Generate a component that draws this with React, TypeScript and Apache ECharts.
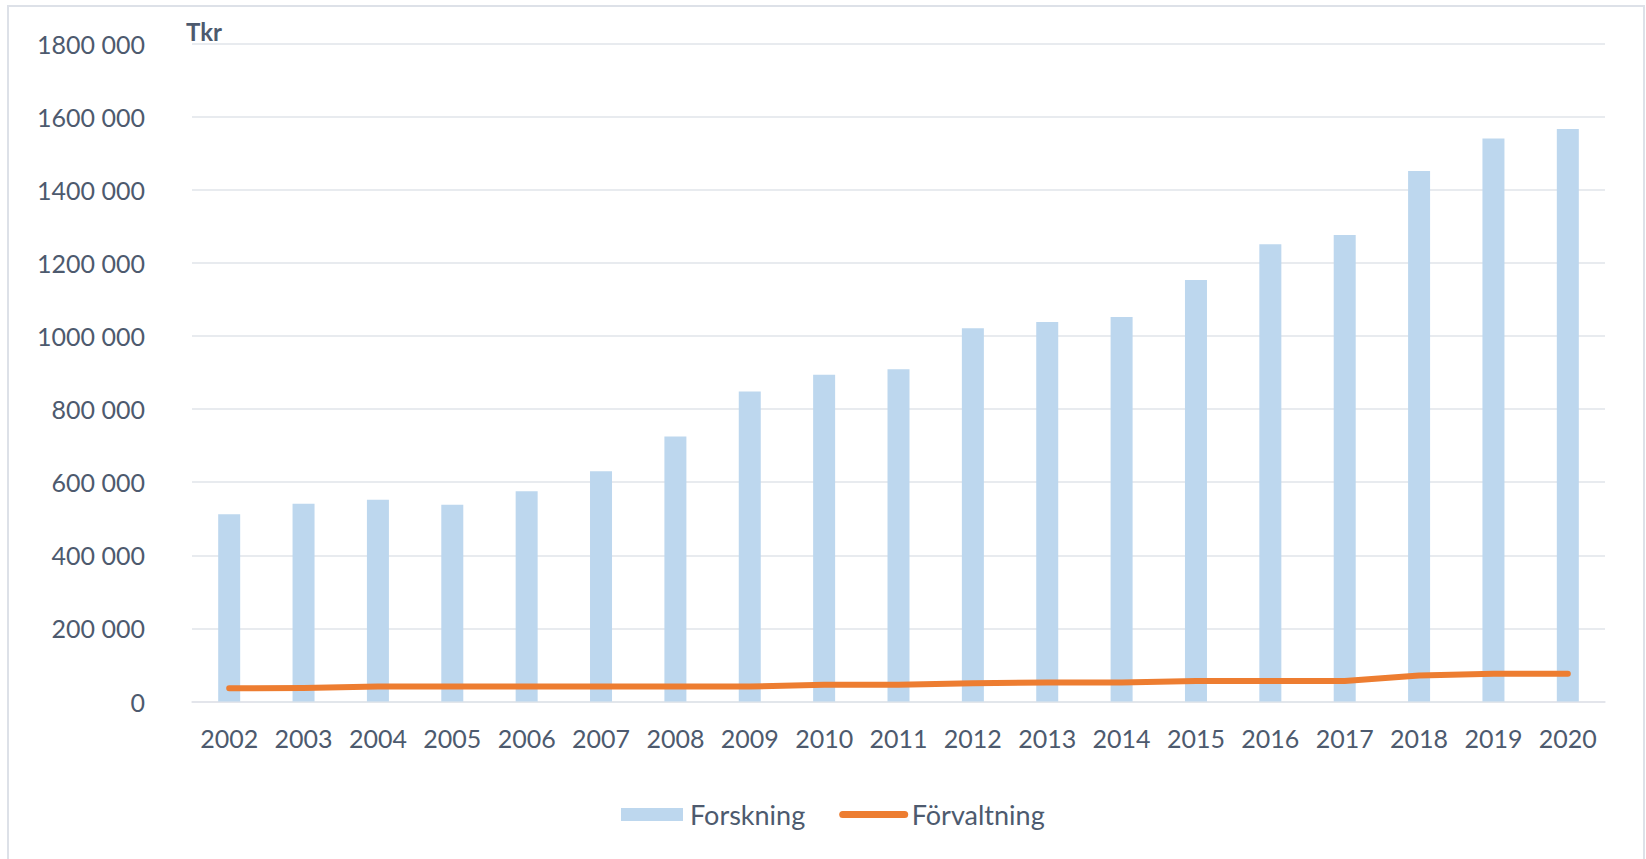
import React, { useEffect, useRef } from "react";
import * as echarts from "echarts";

const years = ["2002","2003","2004","2005","2006","2007","2008","2009","2010","2011","2012","2013","2014","2015","2016","2017","2018","2019","2020"];
const forskning = [512000, 541000, 552000, 538000, 575000, 630000, 725000, 848000, 894000, 909000, 1021000, 1038000, 1052000, 1153000, 1251000, 1276000, 1451000, 1540000, 1566000];
const forvaltning = [36000, 37000, 41000, 41000, 41000, 41000, 41000, 41000, 46000, 46000, 50000, 52000, 52000, 56000, 56000, 56000, 71000, 76000, 76000];
const yTicks = { min: 0, max: 1800000, interval: 200000 };
const unitLabel = "Tkr";
const seriesNames = ["Forskning", "Förvaltning"];

const textColor = "#4d5a6e";
const font = "Lato, 'Noto Sans', sans-serif";

function fmt(v: number): string {
  const s = Math.round(v).toString();
  if (s.length <= 3) return s;
  return s.slice(0, s.length - 3) + " " + s.slice(s.length - 3);
}

export default function App() {
  const ref = useRef<HTMLDivElement>(null);
  useEffect(() => {
    if (!ref.current) return;
    const chart = echarts.init(ref.current, null, { renderer: "svg" });
    chart.setOption({
      animation: false,
      backgroundColor: "#ffffff",
      textStyle: { fontFamily: font },
      graphic: [
        {
          type: "rect",
          shape: { x: 8, y: 6, width: 1636, height: 870 },
          style: { fill: "none", stroke: "#dde1e8", lineWidth: 2 },
          silent: true,
        },
        {
          type: "text",
          left: 186,
          top: 19,
          style: { text: unitLabel, fill: textColor, font: `bold 24px ${font}` },
        },
      ],
      grid: { left: 192, right: 41, top: 43.5, bottom: 157.5, containLabel: false },
      legend: {
        left: 616,
        top: 796,
        itemWidth: 62,
        itemHeight: 13,
        itemGap: 34,
        textStyle: { color: textColor, fontSize: 27, fontFamily: font, padding: [0, 0, 0, 2] },
        data: [
          { name: seriesNames[0], icon: "rect" },
          {
            name: seriesNames[1],
            itemStyle: { opacity: 0 },
            lineStyle: { width: 7, cap: "round", color: "#ed7d31" },
          },
        ],
      },
      xAxis: {
        type: "category",
        data: years,
        axisLine: { show: true, lineStyle: { color: "#e1e4ea", width: 1.5 } },
        axisTick: { show: false },
        axisLabel: { color: textColor, fontSize: 25, margin: 24, interval: 0, hideOverlap: false, fontFamily: font },
      },
      yAxis: {
        type: "value",
        min: yTicks.min,
        max: yTicks.max,
        interval: yTicks.interval,
        axisLine: { show: false },
        axisTick: { show: false },
        splitLine: { lineStyle: { color: "#e1e4ea", width: 1.5 } },
        axisLabel: { color: textColor, fontSize: 25, margin: 47, fontFamily: font, formatter: (v: number) => fmt(v) },
      },
      series: [
        {
          name: seriesNames[0],
          type: "bar",
          data: forskning,
          barWidth: 22,
          itemStyle: { color: "#bdd7ee" },
        },
        {
          name: seriesNames[1],
          type: "line",
          data: forvaltning,
          symbol: "none",
          showSymbol: false,
          lineStyle: { color: "#ed7d31", width: 6, cap: "round", join: "round" },
          itemStyle: { color: "#ed7d31" },
        },
      ],
    });
    return () => chart.dispose();
  }, []);
  return (
    <div
      ref={ref}
      style={{ position: "absolute", left: 0, top: 0, width: 1646, height: 859 }}
    />
  );
}
